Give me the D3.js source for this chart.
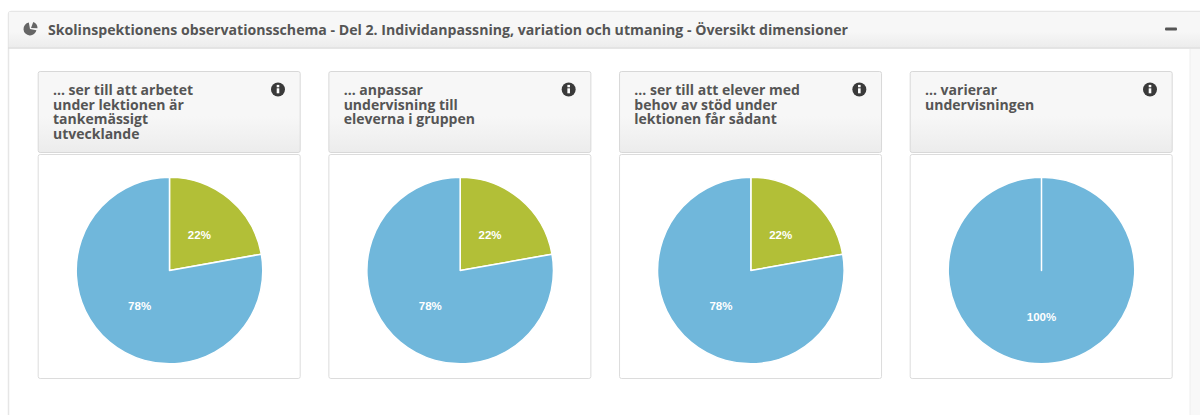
<!DOCTYPE html>
<html lang="en">
<head>
    <meta charset="UTF-8">
    <title>Skolinspektionens observationsschema</title>
    <script src="https://d3js.org/d3.v7.min.js"></script>
    <style>
        html, body { margin: 0; padding: 0; background: #fff; overflow: hidden; }
        text { font-family: "Open Sans", sans-serif; }
        .panel-title { font-size: 14.14px; font-weight: 700; fill: #555; }
        .card-title { font-size: 14px; font-weight: 700; fill: #555; }
        .pct { font-family: "Liberation Sans", sans-serif; font-size: 11.5px; font-weight: 700; fill: #fff; text-anchor: middle; }
    </style>
</head>
<body>
    <svg id="chart" width="1200" height="415"></svg>
    <script>
        // chart data
        const panelTitle = "Skolinspektionens observationsschema - Del 2. Individanpassning, variation och utmaning - Översikt dimensioner";
        const cardTitles = [
            ["... ser till att arbetet", "under lektionen är", "tankemässigt", "utvecklande"],
            ["... anpassar", "undervisning till", "eleverna i gruppen"],
            ["... ser till att elever med", "behov av stöd under", "lektionen får sådant"],
            ["... varierar", "undervisningen"]
        ];
        const greenValues = [22.2, 22.2, 22.2, 0];
        const blueValues = [77.8, 77.8, 77.8, 100];
        const sliceColors = ["#b2bf37", "#70b7db"];

        const svg = d3.select("#chart");
        const defs = svg.append("defs");

        function gradient(id, top, bottom) {
            const g = defs.append("linearGradient").attr("id", id).attr("x1", 0).attr("y1", 0).attr("x2", 0).attr("y2", 1);
            g.append("stop").attr("offset", "0%").attr("stop-color", top);
            g.append("stop").attr("offset", "55%").attr("stop-color", top);
            g.append("stop").attr("offset", "100%").attr("stop-color", bottom);
        }
        gradient("headGrad", "#f7f7f7", "#ececec");

        // outer panel
        svg.append("rect").attr("x", 8.5).attr("y", 11.5).attr("width", 1200).attr("height", 440)
            .attr("rx", 3).attr("fill", "#fff").attr("stroke", "#e6e6e6").attr("stroke-width", 1.5);
        svg.append("rect").attr("x", 9).attr("y", 12).attr("width", 1200).attr("height", 35.5)
            .attr("fill", "url(#headGrad)");
        svg.append("line").attr("x1", 8).attr("x2", 1200).attr("y1", 48).attr("y2", 48)
            .attr("stroke", "#dcdcdc").attr("stroke-width", 1.5);
        svg.append("rect").attr("x", 1190).attr("y", 49).attr("width", 10).attr("height", 366).attr("fill", "#f8f8f8");
        svg.append("line").attr("x1", 1190).attr("x2", 1190).attr("y1", 49).attr("y2", 415).attr("stroke", "#eeeeee");

        // little pie icon in the panel head
        const iconArc = d3.arc().innerRadius(0).outerRadius(6.5);
        const iconG = svg.append("g").attr("transform", "translate(30,29)").attr("fill", "#666");
        iconG.append("path").attr("d", iconArc({ startAngle: 0.35, endAngle: 1.6 })).attr("transform", "translate(1,-1)");
        iconG.append("path").attr("d", iconArc({ startAngle: 1.75, endAngle: 6.1 }));

        svg.append("text").attr("class", "panel-title").attr("x", 48).attr("y", 34.5).text(panelTitle);
        svg.append("rect").attr("x", 1165).attr("y", 27.5).attr("width", 12).attr("height", 3).attr("rx", 1).attr("fill", "#555");

        // four cards
        const x = d3.scalePoint().domain(d3.range(cardTitles.length)).range([37.7, 909.7]);
        const cardW = 262;
        const radius = 93.3;
        const pie = d3.pie().sort(null).startAngle(0).endAngle(2 * Math.PI - 0.0001);
        const arc = d3.arc().innerRadius(0).outerRadius(radius);
        const labelArc = d3.arc().innerRadius(46.5).outerRadius(46.5);

        const card = svg.selectAll("g.card").data(cardTitles).enter().append("g")
            .attr("class", "card")
            .attr("transform", (d, i) => `translate(${x(i)},0)`);

        card.append("rect").attr("x", 0.5).attr("y", 71.5).attr("width", cardW).attr("height", 81)
            .attr("rx", 2).attr("fill", "url(#headGrad)").attr("stroke", "#d8d8d8");
        card.append("rect").attr("x", 0.5).attr("y", 154.5).attr("width", cardW).attr("height", 224)
            .attr("rx", 2).attr("fill", "#fff").attr("stroke", "#dcdcdc");

        card.each(function (lines, i) {
            const g = d3.select(this);
            // one text with a tspan per line, the lines sit very tight
            g.append("text").attr("class", "card-title")
                .selectAll("tspan").data(lines).enter().append("tspan")
                .attr("x", 15.3)
                .attr("y", (d, j) => 95 + j * 14.7)
                .text(d => d);

            // info icon
            const info = g.append("g").attr("transform", `translate(240.3,89.5)`);
            info.append("circle").attr("r", 7).attr("fill", "#3a3a3a");
            info.append("rect").attr("x", -1.3).attr("y", -4.6).attr("width", 2.6).attr("height", 2.4).attr("fill", "#fff");
            info.append("rect").attr("x", -1.3).attr("y", -1.2).attr("width", 2.6).attr("height", 5).attr("fill", "#fff");

            const values = [greenValues[i], blueValues[i]];
            const slices = pie(values);
            const pieG = g.append("g").attr("transform", `translate(131.8,270.5)`);
            pieG.selectAll("path").data(slices).enter().append("path")
                .attr("d", arc)
                .attr("fill", (d, j) => sliceColors[j])
                .attr("stroke", "#fff")
                .attr("stroke-width", 1.5)
                .attr("stroke-linejoin", "round");
            pieG.selectAll("text").data(slices.filter(d => d.value > 0)).enter().append("text")
                .attr("class", "pct")
                .attr("transform", d => `translate(${labelArc.centroid(d)})`)
                .attr("dy", "0.35em")
                .text(d => Math.round(d.value) + "%");
        });
    </script>
</body>
</html>
